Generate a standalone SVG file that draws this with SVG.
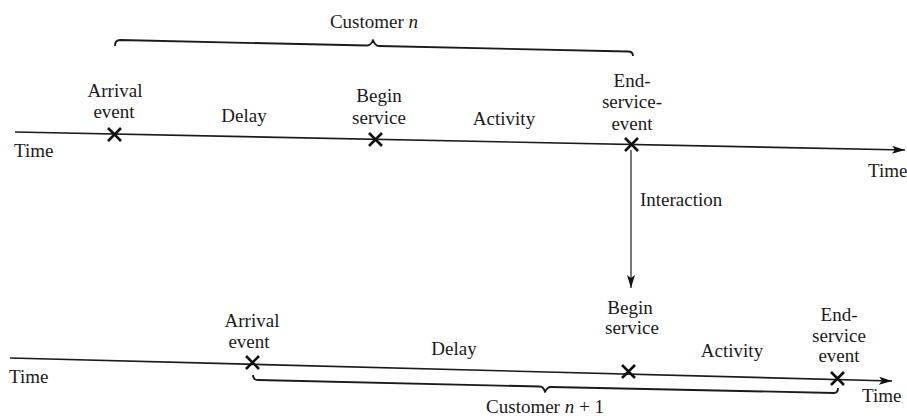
<svg xmlns="http://www.w3.org/2000/svg" width="907" height="416" viewBox="0 0 907 416">
<style>
text{font-family:"Liberation Serif","Times New Roman",serif;font-size:19px;fill:#1a1a1a}
.c{text-anchor:middle}
.ln{stroke:#1a1a1a;stroke-width:1.6;fill:none}
.br{stroke:#1a1a1a;stroke-width:1.8;fill:none;stroke-linejoin:round}
.x{stroke:#111;stroke-width:2.6;stroke-linecap:butt}
.vt{stroke:#6a6a6a;stroke-width:1.8;fill:none}
</style>
<defs>
<marker id="ah" markerUnits="userSpaceOnUse" markerWidth="14" markerHeight="10" refX="13" refY="4" orient="auto">
<path d="M0,0 L13,4 L0,8 L3,4 z" fill="#111"/>
</marker>
</defs>
<rect width="907" height="416" fill="#fff"/>
<g id="connectors">
<path class="ln" d="M15,132 L905,150" marker-end="url(#ah)"/>
<path class="ln" d="M10,358 L892,381" marker-end="url(#ah)"/>
<path class="vt" d="M631,150 L631,288" marker-end="url(#ah)"/>
<path class="br" d="M115,46 Q115,40 120,40 L367,45.5 Q371,45.5 373,40 Q375,46 379,46 L628,51.5 Q633,51.5 633,56"/>
<path class="br" d="M253,375 Q253,380 258,380 L540,386.5 Q543.5,386.5 545,392 Q547,387 551,387 L834,393 Q838,393 838,388"/>
</g>
<g id="label-customer-n"><text class="c" x="374" y="28">Customer <tspan font-style="italic">n</tspan></text></g>
<g id="label-customer-n1"><text class="c" x="545" y="413">Customer <tspan font-style="italic">n</tspan> + 1</text></g>
<g id="time-labels">
<text x="14" y="157">Time</text>
<text x="868" y="177">Time</text>
<text x="9" y="383">Time</text>
<text x="862" y="402">Time</text>
</g>
<g id="n-arrival">
<path class="x" d="M108,128 L121,141 M121,128 L108,141"/>
<text class="c" x="115" y="97">Arrival</text>
<text class="c" x="114" y="118">event</text>
</g>
<g id="n-delay"><text class="c" x="244" y="122">Delay</text></g>
<g id="n-begin">
<path class="x" d="M369,133 L382,146 M382,133 L369,146"/>
<text class="c" x="379" y="102">Begin</text>
<text class="c" x="379" y="124">service</text>
</g>
<g id="n-activity"><text class="c" x="504" y="125">Activity</text></g>
<g id="n-end">
<path class="x" d="M625,138 L638,151 M638,138 L625,151"/>
<text class="c" x="632" y="87">End-</text>
<text class="c" x="632" y="108">service-</text>
<text class="c" x="632" y="130">event</text>
</g>
<g id="n-interaction"><text x="640" y="206">Interaction</text></g>
<g id="n2-arrival">
<path class="x" d="M246,356 L259,369 M259,356 L246,369"/>
<text class="c" x="252" y="327">Arrival</text>
<text class="c" x="249" y="348">event</text>
</g>
<g id="n2-delay"><text class="c" x="454" y="355">Delay</text></g>
<g id="n2-begin">
<path class="x" d="M622,365 L635,378 M635,365 L622,378"/>
<text class="c" x="630" y="314">Begin</text>
<text class="c" x="632" y="334">service</text>
</g>
<g id="n2-activity"><text class="c" x="732" y="357">Activity</text></g>
<g id="n2-end">
<path class="x" d="M831,372 L844,385 M844,372 L831,385"/>
<text class="c" x="839" y="321">End-</text>
<text class="c" x="839" y="342">service</text>
<text class="c" x="839" y="362">event</text>
</g>
</svg>
